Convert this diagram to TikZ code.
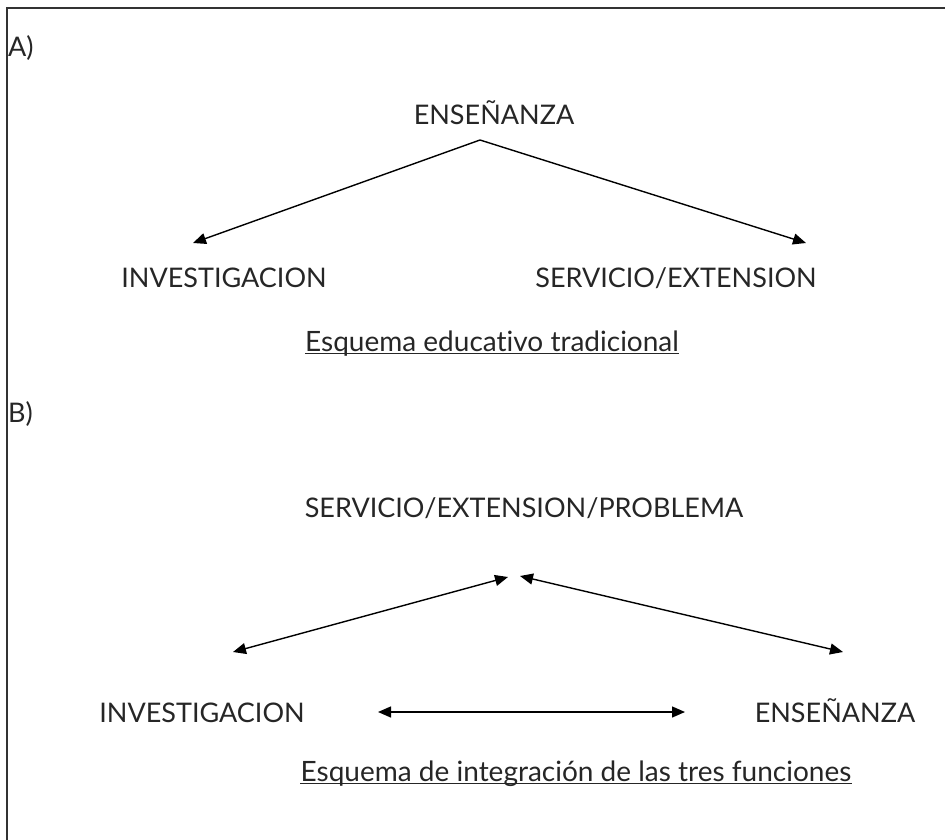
\documentclass[tikz,border=0pt]{standalone}
\usepackage{fontspec}
\setmainfont{Lato}[Ligatures=CommonOff]
\usetikzlibrary{arrows.meta}

\begin{document}
\begin{tikzpicture}[
  x=1pt, y=-1pt,
  font=\fontsize{27}{31}\selectfont,
  lbl/.style={anchor=base, inner sep=0pt, text=black!85},
  tag/.style={anchor=base west, inner sep=0pt, text=black!85},
  undertext/.style={lbl, font=\fontsize{28}{32}\selectfont},
  uline/.style={line width=1.1pt, draw=black!85},
  arr/.style={-{Triangle[length=13pt,width=11pt]}, line width=1.4pt},
  darr/.style={{Triangle[length=13pt,width=11pt]}-{Triangle[length=13pt,width=11pt]}, line width=1.4pt},
  frame/.style={line width=2pt, draw=black!80}
]
\useasboundingbox (0,0) rectangle (945,840);

% frame (top and left only)
\draw[frame] (945,8) -- (7,8) -- (7,840);

% part A
\node[tag] (tagA) at (8,57) {A)};
\node[lbl] (ensA) at (494,125) {ENSEÑANZA};
\node[lbl] (invA) at (224,287) {INVESTIGACION};
\node[lbl] (serA) at (676,287) {SERVICIO/EXTENSION};
\node[undertext] (capA) at (492,351) {Esquema educativo tradicional};
\draw[uline] ([yshift=-2.5pt]capA.base west) -- ([yshift=-2.5pt]capA.base east);

\coordinate (apexA) at (480,140);
\coordinate (invTipA) at (193,243);
\coordinate (serTipA) at (806,243);
\draw[arr] (apexA) -- (invTipA);
\draw[arr] (apexA) -- (serTipA);

% part B
\node[tag] (tagB) at (8,422) {B)};
\node[lbl] (serB) at (524,517) {SERVICIO/EXTENSION/PROBLEMA};
\node[lbl] (invB) at (202,722) {INVESTIGACION};
\node[lbl] (ensB) at (835,722) {ENSEÑANZA};
\node[undertext] (capB) at (576,781) {Esquema de integración de las tres funciones};
\draw[uline] ([yshift=-2.5pt]capB.base west) -- ([yshift=-2.5pt]capB.base east);

\coordinate (serTipL) at (508,577);
\coordinate (serTipR) at (520,576);
\coordinate (invTipB) at (233,652);
\coordinate (ensTipB) at (843,652);
\coordinate (midL) at (378,712);
\coordinate (midR) at (685,712);
\draw[darr] (invTipB) -- (serTipL);
\draw[darr] (serTipR) -- (ensTipB);
\draw[darr] (midL) -- (midR);

\end{tikzpicture}
\end{document}
